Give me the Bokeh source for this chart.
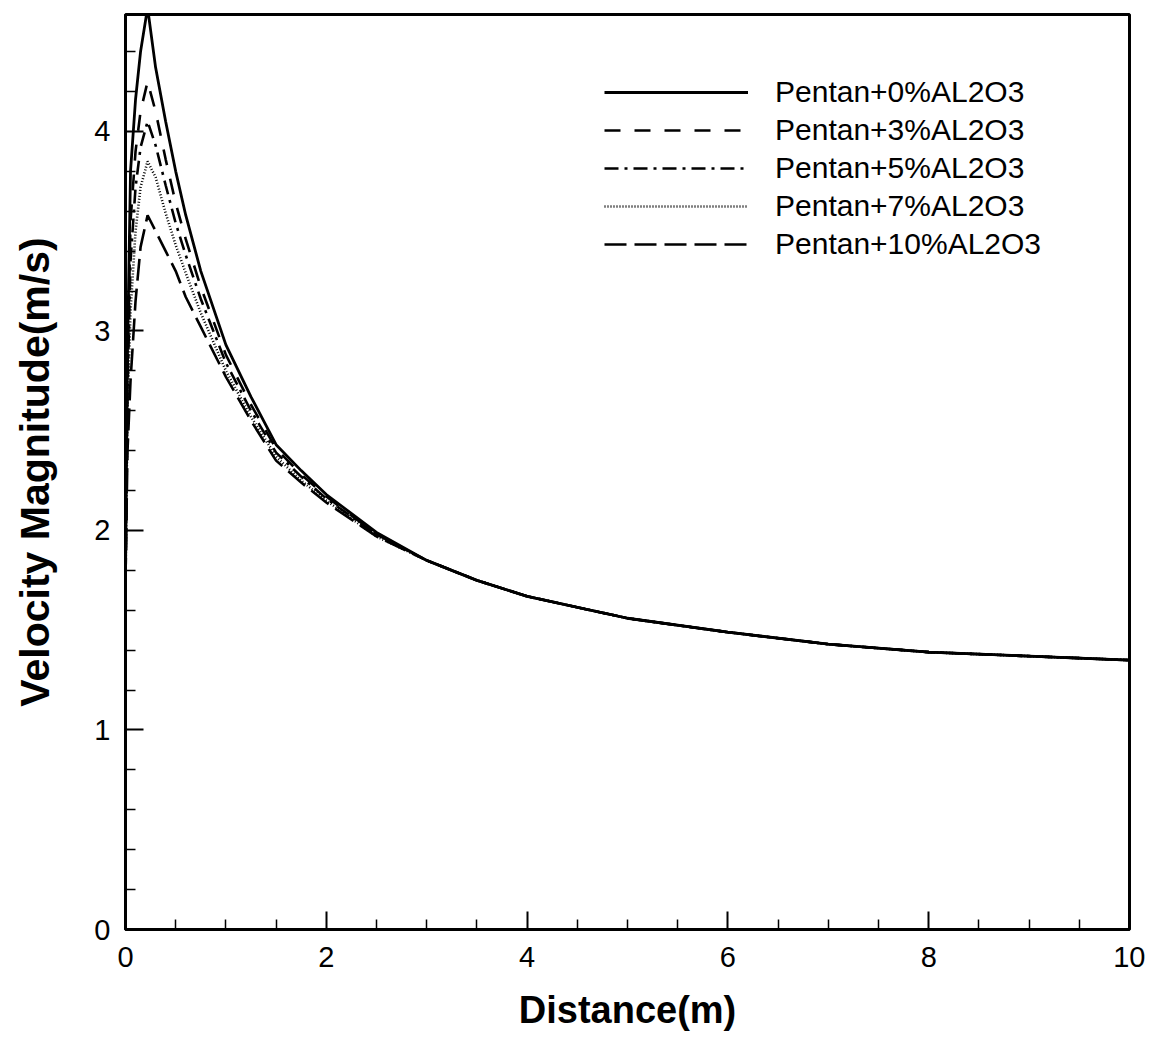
from bokeh.plotting import figure
from bokeh.models import Range1d, FixedTicker, Legend, LegendItem
from bokeh.embed import file_html
from bokeh.resources import INLINE

# ---- data ----
x_head = [0.0, 0.02, 0.05, 0.1, 0.15, 0.22, 0.3, 0.4, 0.5, 0.6, 0.75, 1.0, 1.25, 1.5, 1.75, 2.0, 2.5, 3.0]
x_tail = [3.5, 4.0, 5.0, 6.0, 7.0, 8.0, 9.0, 10.0]
v_tail = [1.75, 1.67, 1.56, 1.49, 1.43, 1.39, 1.37, 1.35]

v_0pct = [1.75, 2.9, 3.8, 4.16, 4.4, 4.62, 4.32, 4.05, 3.8, 3.58, 3.3, 2.93, 2.67, 2.43, 2.3, 2.18, 1.99, 1.85]
v_3pct = [1.75, 2.8, 3.55, 3.9, 4.1, 4.25, 4.1, 3.86, 3.64, 3.46, 3.22, 2.88, 2.63, 2.41, 2.28, 2.17, 1.98, 1.85]
v_5pct = [1.75, 2.7, 3.35, 3.72, 3.92, 4.05, 3.93, 3.73, 3.54, 3.38, 3.16, 2.84, 2.6, 2.39, 2.27, 2.16, 1.98, 1.85]
v_7pct = [1.75, 2.6, 3.1, 3.5, 3.72, 3.85, 3.77, 3.59, 3.43, 3.29, 3.09, 2.8, 2.57, 2.37, 2.25, 2.15, 1.97, 1.85]
v_10pct = [1.75, 2.4, 2.75, 3.15, 3.42, 3.58, 3.5, 3.4, 3.3, 3.17, 3.02, 2.77, 2.55, 2.35, 2.24, 2.14, 1.97, 1.85]

labels = ["Pentan+0%AL2O3", "Pentan+3%AL2O3", "Pentan+5%AL2O3",
          "Pentan+7%AL2O3", "Pentan+10%AL2O3"]
series = [v_0pct, v_3pct, v_5pct, v_7pct, v_10pct]
dashes = ["solid", "16 14", "14 6 3 6", "1 2", "22 8"]
widths = [2.8, 2.6, 2.6, 2.6, 2.6]

x_major = [0, 2, 4, 6, 8, 10]
x_minor = [0.5, 1, 1.5, 2.5, 3, 3.5, 4.5, 5, 5.5, 6.5, 7, 7.5, 8.5, 9, 9.5]
y_major = [0, 1, 2, 3, 4]
y_minor = [0.2, 0.4, 0.6, 0.8, 1.2, 1.4, 1.6, 1.8, 2.2, 2.4, 2.6, 2.8,
           3.2, 3.4, 3.6, 3.8, 4.2, 4.4]

FONT = "Liberation Sans"

p = figure(width=1145, height=1038, output_backend="svg", toolbar_location=None,
           x_range=Range1d(0, 10), y_range=Range1d(0, 4.586),
           min_border_left=125, min_border_right=16, min_border_top=14,
           min_border_bottom=109)
p.background_fill_color = "white"
p.border_fill_color = "white"
p.outline_line_color = "black"
p.outline_line_width = 3
p.grid.visible = False

items = []
for lab, v, d, w in zip(labels, series, dashes, widths):
    r = p.line(x_head + x_tail, v + v_tail, line_color="black", line_width=w,
               line_dash=d)
    items.append(LegendItem(label=lab, renderers=[r]))

legend = Legend(items=items, location=(479, 666), orientation="vertical",
                border_line_color=None, background_fill_alpha=0,
                padding=0, margin=0, spacing=0,
                glyph_width=144, glyph_height=38, label_height=38,
                label_standoff=27, label_text_font=FONT,
                label_text_font_size="30px", label_text_color="black")
p.add_layout(legend)

p.xaxis.ticker = FixedTicker(ticks=x_major, minor_ticks=x_minor)
p.yaxis.ticker = FixedTicker(ticks=y_major, minor_ticks=y_minor)
for ax in (p.xaxis[0], p.yaxis[0]):
    ax.axis_line_width = 3
    ax.axis_line_color = "black"
    ax.major_tick_in = 18
    ax.major_tick_out = 0
    ax.minor_tick_in = 10
    ax.minor_tick_out = 0
    ax.major_tick_line_width = 2
    ax.minor_tick_line_width = 1.5
    ax.major_tick_line_color = "black"
    ax.minor_tick_line_color = "black"
    ax.major_label_text_font = FONT
    ax.major_label_text_font_size = "29px"
    ax.major_label_text_color = "black"
    ax.axis_label_text_font = FONT
    ax.axis_label_text_font_style = "bold"
    ax.axis_label_text_color = "black"

p.xaxis.axis_label = "Distance(m)"
p.yaxis.axis_label = "Velocity Magnitude(m/s)"
p.xaxis.axis_label_text_font_size = "38px"
p.yaxis.axis_label_text_font_size = "41px"
p.xaxis.major_label_standoff = 17
p.yaxis.major_label_standoff = 15
p.xaxis.axis_label_standoff = 19
p.yaxis.axis_label_standoff = 33

open("out.html", "w").write(file_html(p, INLINE))
